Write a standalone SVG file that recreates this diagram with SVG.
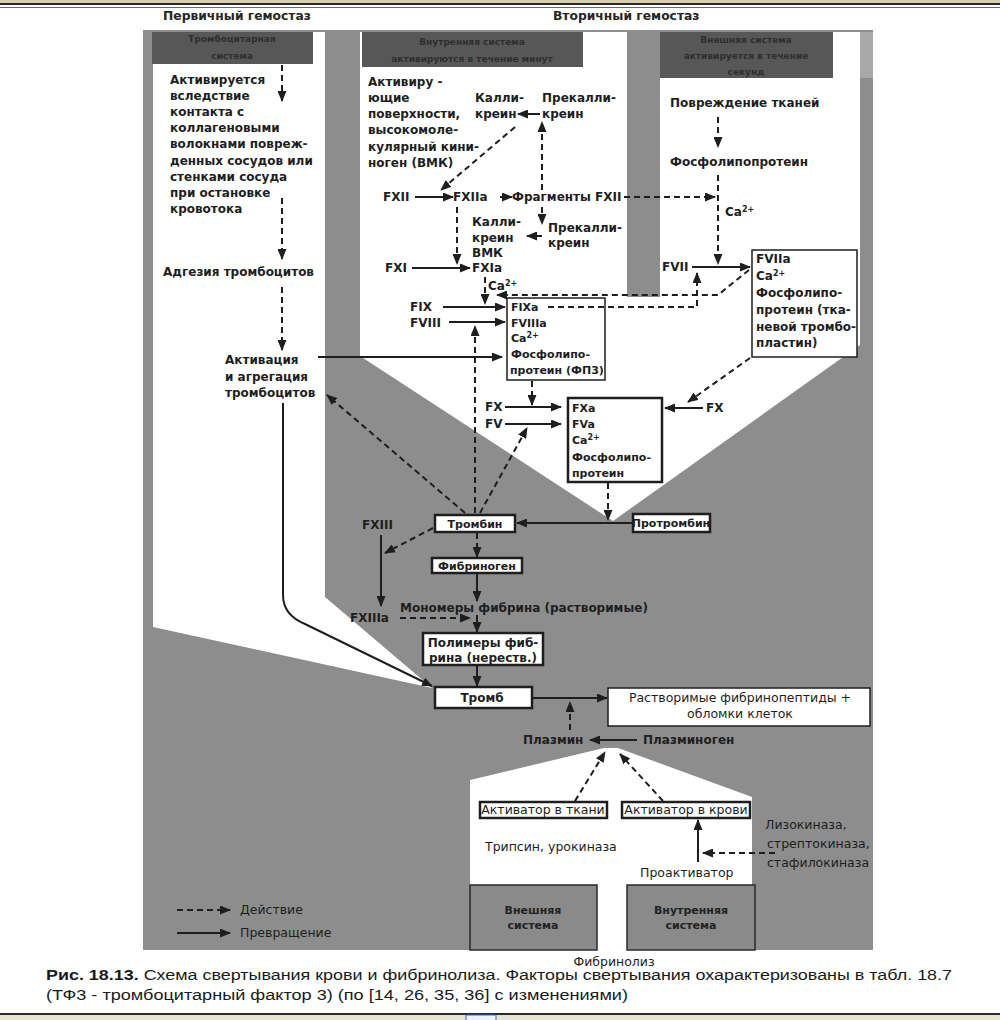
<svg xmlns="http://www.w3.org/2000/svg" width="1000" height="1020" viewBox="0 0 1000 1020">
<defs>
<marker id="ah" markerUnits="userSpaceOnUse" markerWidth="11" markerHeight="9" refX="10" refY="4.5" orient="auto">
<path d="M0,0 L11,4.5 L0,9 Z" fill="#1e1e1e"/>
</marker>
<style>
.t{font-family:"DejaVu Sans","Liberation Sans",sans-serif;font-weight:bold;font-size:12px;fill:#1e1e1e}
.b{font-size:11px}
.tl{font-family:"DejaVu Sans","Liberation Sans",sans-serif;font-size:12.5px;fill:#1e1e1e}
.c{text-anchor:middle}
.h{font-family:"DejaVu Sans",sans-serif;font-weight:bold;font-size:9px;fill:#2e2e2e;text-anchor:middle}
.ti{font-family:"DejaVu Sans",sans-serif;font-weight:bold;font-size:12.3px;fill:#262626}
.s{stroke:#1e1e1e;stroke-width:2;fill:none;marker-end:url(#ah)}
.d{stroke:#1e1e1e;stroke-width:2;fill:none;stroke-dasharray:6 4;marker-end:url(#ah)}
.box{fill:#fff;stroke:#1e1e1e;stroke-width:1.5}
.bx2{fill:#fff;stroke:#1e1e1e;stroke-width:2.5}
.gbox{fill:#8a8a8a;stroke:#2a2a2a;stroke-width:1.5}
.hd{fill:#575757}
.cap{font-family:"Liberation Sans",Arial,sans-serif;font-size:14px;fill:#1a1a1a}
</style>
</defs>
<rect width="1000" height="1020" fill="#fff"/>
<!-- page frame -->
<rect x="0" y="0" width="1000" height="3" fill="#d8cfae"/>
<rect x="0" y="3" width="1000" height="2" fill="#2a2a2a"/>
<rect x="0" y="7" width="1000" height="1" fill="#6a6a6a"/>
<rect x="0" y="1013" width="1000" height="2" fill="#2a2a2a"/>
<rect x="0" y="1015" width="1000" height="5" fill="#e8e4d4"/>
<rect x="466" y="1015" width="30" height="6" fill="#eef2ff" stroke="#3a5fcd" stroke-width="1"/>

<!-- background -->
<g id="background">
<rect x="143" y="30" width="730" height="920" fill="#8d8d8d"/>
<rect x="860" y="32" width="13" height="46" fill="#a8a8a8"/>
<path d="M153,32 H325 V597 L432,688 L153,627 Z" fill="#fff"/>
<path d="M360,32 H860 V345 L613,521 L360,356 Z" fill="#fff"/>
<rect x="627" y="32" width="33" height="265" fill="#8d8d8d"/>
<path d="M470,780 L604,748 L618,748 L752,797 V950 H470 Z" fill="#fff"/>
<rect class="hd" x="152" y="32" width="161" height="32"/>
<rect class="hd" x="362" y="32" width="221" height="35"/>
<rect class="hd" x="660" y="32" width="173" height="46"/>
<text class="h" x="232" y="42">Тромбоцитарная</text>
<text class="h" x="232" y="59">система</text>
<text class="h" x="472" y="45">Внутренняя система</text>
<text class="h" x="472" y="62">активируются в течение минут</text>
<text class="h" x="746" y="43">Внешняя система</text>
<text class="h" x="746" y="59">активируется в течение</text>
<text class="h" x="746" y="75">секунд</text>
</g>

<text class="ti" x="163" y="20">Первичный гемостаз</text>
<text class="ti" x="553" y="20">Вторичный гемостаз</text>

<!-- left column nodes -->
<g id="n-activation-contact">
<text class="t" x="170" y="84">Активируется</text>
<text class="t" x="170" y="100">вследствие</text>
<text class="t" x="170" y="116">контакта с</text>
<text class="t" x="170" y="132">коллагеновыми</text>
<text class="t" x="170" y="148">волокнами повреж-</text>
<text class="t" x="170" y="165">денных сосудов или</text>
<text class="t" x="170" y="181">стенками  сосуда</text>
<text class="t" x="170" y="197">при остановке</text>
<text class="t" x="170" y="213">кровотока</text>
</g>
<g id="n-adhesion"><text class="t" x="163" y="276">Адгезия тромбоцитов</text></g>
<g id="n-aggregation">
<text class="t" x="225" y="364">Активация</text>
<text class="t" x="225" y="381">и агрегация</text>
<text class="t" x="225" y="397">тромбоцитов</text>
</g>

<!-- intrinsic -->
<g id="n-surfaces">
<text class="t" x="368" y="86">Активиру -</text>
<text class="t" x="368" y="102">ющие</text>
<text class="t" x="368" y="118">поверхности,</text>
<text class="t" x="368" y="134">высокомоле-</text>
<text class="t" x="368" y="151">кулярный кини-</text>
<text class="t" x="368" y="167">ноген (ВМК)</text>
</g>
<g id="n-kallikrein1"><text class="t" x="475" y="102">Калли-</text><text class="t" x="475" y="118">креин</text></g>
<g id="n-prekallikrein1"><text class="t" x="542" y="102">Прекалли-</text><text class="t" x="542" y="118">креин</text></g>
<g id="n-fxii"><text class="t" x="383" y="201">FXII</text></g>
<g id="n-fxiia"><text class="t" x="453" y="201">FXIIa</text></g>
<g id="n-fragments"><text class="t" x="512" y="201">Фрагменты FXII</text></g>
<g id="n-kallikrein2"><text class="t" x="472" y="226">Калли-</text><text class="t" x="472" y="242">креин</text><text class="t" x="472" y="257">ВМК</text></g>
<g id="n-prekallikrein2"><text class="t" x="548" y="232">Прекалли-</text><text class="t" x="548" y="247">креин</text></g>
<g id="n-fxi"><text class="t" x="385" y="272">FXI</text></g>
<g id="n-fxia"><text class="t" x="472" y="272">FXIa</text><text class="t" x="488" y="290">Ca<tspan font-size="8" dy="-4">2+</tspan></text></g>
<g id="n-fix"><text class="t" x="410" y="311">FIX</text></g>
<g id="n-fviii"><text class="t" x="410" y="327">FVIII</text></g>
<g id="n-fixa-complex">
<rect class="box" x="507" y="298" width="98" height="82"/>
<text class="t b" x="511" y="311">FIXa</text>
<text class="t b" x="511" y="327">FVIIIa</text>
<text class="t b" x="511" y="342">Ca<tspan font-size="8" dy="-4">2+</tspan></text>
<text class="t b" x="511" y="358">Фосфолипо-</text>
<text class="t b" x="510" y="374">протеин (ФП3)</text>
</g>
<g id="n-fx"><text class="t" x="485" y="411">FX</text></g>
<g id="n-fv"><text class="t" x="485" y="428">FV</text></g>
<g id="n-fxa-complex">
<rect class="bx2" x="568" y="398" width="94" height="84"/>
<text class="t b" x="572" y="412">FXa</text>
<text class="t b" x="572" y="428">FVa</text>
<text class="t b" x="572" y="444">Ca<tspan font-size="8" dy="-4">2+</tspan></text>
<text class="t b" x="572" y="461">Фосфолипо-</text>
<text class="t b" x="572" y="477">протеин</text>
</g>
<g id="n-fx-right"><text class="t" x="706" y="412">FX</text></g>

<!-- extrinsic -->
<g id="n-tissue-damage"><text class="t" x="670" y="107">Повреждение тканей</text></g>
<g id="n-phospholipoprotein"><text class="t" x="670" y="166">Фосфолипопротеин</text><text class="t" x="725" y="216">Ca<tspan font-size="8" dy="-4">2+</tspan></text></g>
<g id="n-fvii"><text class="t" x="662" y="271">FVII</text></g>
<g id="n-fviia-complex">
<rect class="box" x="752" y="250" width="105" height="107"/>
<text class="t" x="756" y="263" font-size="11.3">FVIIa</text>
<text class="t" x="756" y="280" font-size="11.3">Ca<tspan font-size="8" dy="-4">2+</tspan></text>
<text class="t" x="756" y="297" font-size="11.3">Фосфолипо-</text>
<text class="t" x="756" y="314" font-size="11.3">протеин (тка-</text>
<text class="t" x="756" y="331" font-size="11.3">невой тромбо-</text>
<text class="t" x="756" y="347" font-size="11.3">пластин)</text>
</g>

<!-- common pathway -->
<g id="n-thrombin"><rect class="bx2" x="435" y="515" width="80" height="17"/><text class="t c b" x="475" y="528">Тромбин</text></g>
<g id="n-prothrombin"><rect class="bx2" x="633" y="514" width="77" height="18"/><text class="t c b" x="671" y="527">Протромбин</text></g>
<g id="n-fxiii"><text class="t" x="362" y="529">FXIII</text></g>
<g id="n-fxiiia"><text class="t" x="350" y="622">FXIIIa</text></g>
<g id="n-fibrinogen"><rect class="bx2" x="432" y="558" width="90" height="15"/><text class="t c b" x="477" y="570">Фибриноген</text></g>
<g id="n-monomers"><text class="t" x="400" y="612">Мономеры фибрина (растворимые)</text></g>
<g id="n-polymers"><rect class="bx2" x="423" y="633" width="120" height="32"/><text class="t c" x="483" y="647" font-size="11.5">Полимеры фиб-</text><text class="t c" x="483" y="662" font-size="11.5">рина  (нерeств.)</text></g>
<g id="n-thrombus"><rect class="bx2" x="435" y="687" width="97" height="21"/><text class="t c" x="482" y="702">Тромб</text></g>

<!-- fibrinolysis -->
<g id="n-fibrinopeptides"><rect class="box" x="608" y="688" width="262" height="38"/><text class="tl c" x="740" y="702" font-size="13">Растворимые фибринопептиды +</text><text class="tl c" x="740" y="718" font-size="13">обломки клеток</text></g>
<g id="n-plasmin"><text class="t" x="523" y="744">Плазмин</text></g>
<g id="n-plasminogen"><text class="t" x="643" y="744">Плазминоген</text></g>
<g id="n-tissue-activator"><rect class="bx2" x="480" y="802" width="127" height="16"/><text class="tl c" x="543" y="814" font-size="11.3">Активатор в ткани</text></g>
<g id="n-blood-activator"><rect class="bx2" x="622" y="802" width="128" height="16"/><text class="tl c" x="686" y="814" font-size="11.3">Активатор в крови</text></g>
<g id="n-kinases"><text class="tl" x="765" y="829" font-size="13">Лизокиназа,</text><text class="tl" x="767" y="848">стрептокиназа,</text><text class="tl" x="767" y="867">стафилокиназа</text></g>
<g id="n-trypsin"><text class="tl" x="485" y="851">Трипсин, урокиназа</text></g>
<g id="n-proactivator"><text class="tl" x="640" y="877" font-size="13">Проактиватор</text></g>
<g id="n-external"><rect class="gbox" x="470" y="885" width="127" height="65"/><text class="t c b" x="533" y="914" style="fill:#222">Внешняя</text><text class="t c b" x="533" y="929" style="fill:#222">система</text></g>
<g id="n-internal"><rect class="gbox" x="627" y="885" width="128" height="65"/><text class="t c b" x="691" y="914" style="fill:#222">Внутренняя</text><text class="t c b" x="691" y="929" style="fill:#222">система</text></g>
<text class="tl c" x="614" y="966" font-size="10.5">Фибринолиз</text>

<!-- legend -->
<g id="legend">
<line class="d" x1="177" y1="910" x2="230" y2="910"/>
<line class="s" x1="177" y1="933" x2="230" y2="933"/>
<text class="tl" x="240" y="914">Действие</text>
<text class="tl" x="240" y="937">Превращение</text>
</g>

<!-- connectors -->
<g id="connectors">
<line class="s" x1="415" y1="197" x2="453" y2="197"/>
<line class="s" x1="500" y1="197" x2="512" y2="197"/>
<line class="s" x1="540" y1="114" x2="518" y2="114"/>
<line class="s" x1="542" y1="236" x2="527" y2="236"/>
<line class="s" x1="412" y1="268" x2="470" y2="268"/>
<line class="s" x1="443" y1="307" x2="505" y2="307"/>
<line class="s" x1="449" y1="322" x2="505" y2="322"/>
<line class="s" x1="318" y1="357" x2="502" y2="357"/>
<line class="s" x1="505" y1="407" x2="561" y2="407"/>
<line class="s" x1="505" y1="424" x2="561" y2="424"/>
<line class="s" x1="703" y1="408" x2="665" y2="408"/>
<line class="s" x1="692" y1="267" x2="750" y2="267"/>
<line class="s" x1="633" y1="523" x2="517" y2="523"/>
<line class="s" x1="381" y1="535" x2="381" y2="606"/>
<line class="s" x1="477" y1="573" x2="477" y2="601"/>
<line class="s" x1="477" y1="615" x2="477" y2="632"/>
<line class="s" x1="477" y1="666" x2="477" y2="686"/>
<path class="s" d="M283,403 V595 Q283,615 305,624 L432,686"/>
<line class="s" x1="532" y1="698" x2="607" y2="698"/>
<line class="s" x1="637" y1="740" x2="590" y2="740"/>
<line class="s" x1="698" y1="862" x2="698" y2="820"/>

<line class="d" x1="282" y1="65" x2="282" y2="101"/>
<line class="d" x1="282" y1="198" x2="282" y2="259"/>
<line class="d" x1="282" y1="287" x2="282" y2="350"/>
<line class="d" x1="515" y1="127" x2="441" y2="190"/>
<line class="d" x1="542" y1="190" x2="542" y2="122"/>
<line class="d" x1="542" y1="207" x2="542" y2="224"/>
<line class="d" x1="457" y1="207" x2="457" y2="264"/>
<line class="d" x1="624" y1="197" x2="715" y2="197"/>
<line class="d" x1="718" y1="117" x2="718" y2="147"/>
<line class="d" x1="718" y1="175" x2="718" y2="264"/>
<line class="d" x1="485" y1="277" x2="485" y2="304"/>
<path class="d" d="M749,270 L718,295 H497"/>
<path class="d" d="M548,307 H697 V273"/>
<line class="d" x1="532" y1="381" x2="532" y2="405"/>
<line class="d" x1="750" y1="358" x2="688" y2="402"/>
<line class="d" x1="608" y1="483" x2="608" y2="520"/>
<line class="d" x1="465" y1="513" x2="327" y2="395"/>
<line class="d" x1="475" y1="513" x2="475" y2="326"/>
<line class="d" x1="480" y1="513" x2="527" y2="428"/>
<line class="d" x1="433" y1="528" x2="385" y2="553"/>
<line class="d" x1="477" y1="533" x2="477" y2="557"/>
<line class="d" x1="400" y1="618" x2="470" y2="618"/>
<line class="d" x1="570" y1="730" x2="570" y2="702"/>
<line class="d" x1="575" y1="801" x2="605" y2="752"/>
<line class="d" x1="663" y1="801" x2="620" y2="754"/>
<line class="d" x1="775" y1="853" x2="703" y2="853"/>
</g>

<!-- caption -->
<text class="cap" x="46" y="980" textLength="906" lengthAdjust="spacingAndGlyphs"><tspan font-weight="bold">Рис. 18.13.</tspan> Схема свертывания крови и фибринолиза. Факторы свертывания охарактеризованы в табл. 18.7</text>
<text class="cap" x="46" y="1000" textLength="582" lengthAdjust="spacingAndGlyphs">(ТФ3 - тромбоцитарный фактор 3) (по [14, 26, 35, 36] с изменениями)</text>
</svg>
